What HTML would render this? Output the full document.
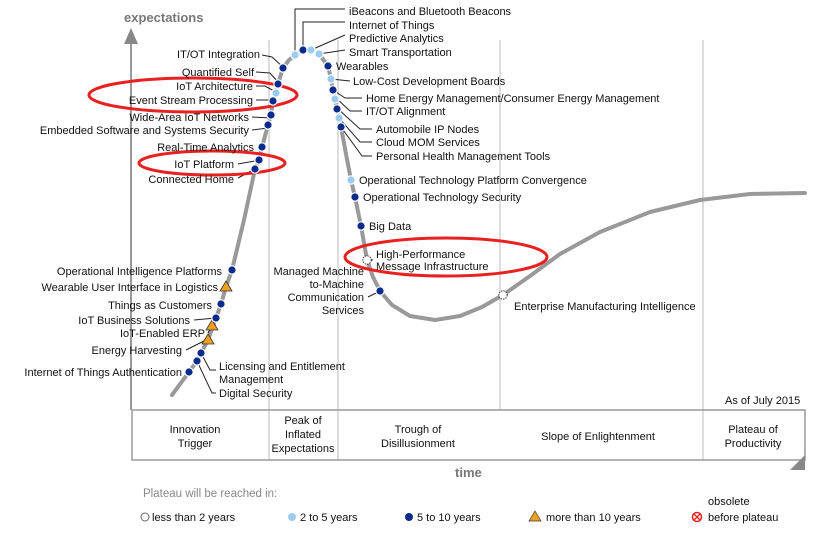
<!DOCTYPE html>
<html><head><meta charset="utf-8"><style>
body{margin:0;background:#fff}
svg{display:block;font-family:"Liberation Sans",sans-serif}
text{font-size:11px;fill:#111}
.g{fill:#888;font-size:11.5px}
</style></head><body>
<svg width="817" height="535" viewBox="0 0 817 535">
<defs>
<g id="d"><circle r="4.2" fill="#0a2b8c" stroke="#fff" stroke-width="1.2"/></g>
<g id="l"><circle r="4.2" fill="#9ccbf0" stroke="#fff" stroke-width="1.2"/></g>
<g id="w"><circle r="4.2" fill="#fff" stroke="#333" stroke-width="1" stroke-dasharray="1.5 1"/></g>
<g id="t"><polygon points="0,-6 6,4 -6,4" fill="#f0a020" stroke="#333" stroke-width="0.8"/></g>
</defs>
<g stroke="#ddd" stroke-width="2">
<line x1="269" y1="40" x2="269" y2="460"/><line x1="338" y1="40" x2="338" y2="460"/>
<line x1="500" y1="40" x2="500" y2="410"/><line x1="703" y1="40" x2="703" y2="460"/>
</g>
<line x1="131" y1="40" x2="131" y2="410" stroke="#999" stroke-width="2"/>
<polygon points="131,28 124,44 138,44" fill="#888"/>
<text x="124" y="22" class="g" style="font-size:13px;font-weight:bold;fill:#777">expectations</text>
<rect x="132" y="410" width="673" height="50" fill="none" stroke="#999" stroke-width="1.5"/>
<polygon points="805,455 805,470 790,470" fill="#888"/>
<text x="455" y="477" class="g" style="font-size:13px;font-weight:bold;fill:#777">time</text>
<g class="g" text-anchor="middle">
<text x="195" y="433">Innovation</text><text x="195" y="447">Trigger</text>
<text x="303" y="424">Peak of</text><text x="303" y="438">Inflated</text><text x="303" y="452">Expectations</text>
<text x="418" y="433">Trough of</text><text x="418" y="447">Disillusionment</text>
<text x="598" y="440">Slope of Enlightenment</text>
<text x="753" y="433">Plateau of</text><text x="753" y="447">Productivity</text>
</g>
<text x="725" y="404">As of July 2015</text>
<polyline points="172,395 189,372 197,361 201,353 208,340 216,318 221,304 226,287 232,270 244,220 255,169 259,160 262,147 268,125 271,115 273,101 278,84 283,68 289,60 295,55 303,50 311,50 319,54 328,66 331,79 333,90 337,109 341,127 346,154 351,180 355,197 361,226 367,260 373,277 380,291 392,305 410,316 435,320 460,316 482,307 503,295 530,276 560,254 600,232 650,212 700,200 750,194 805,193" fill="none" stroke="#999" stroke-width="4" stroke-linejoin="round" stroke-linecap="round"/>
<g stroke="#222" stroke-width="1" fill="none">
<path d="M295,55 L295,9 L345,9"/><path d="M303,50 L303,22 L345,22"/>
<path d="M311,50 L345,35"/><path d="M319,54 L345,50"/>
<path d="M331,79 L350,81"/><path d="M333,90 L345,98 L362,98"/><path d="M335,97 L350,111 L362,111"/>
<path d="M337,108 L360,129 L372,129"/><path d="M339,118 L360,142 L372,142"/><path d="M341,127 L362,156 L372,156"/>
<path d="M283,67 L272,57 L262,55"/><path d="M278,82 L270,73 L256,72"/><path d="M276,92 L265,86 L256,86"/>
<path d="M273,100 L256,100"/><path d="M271,118 L252,117"/><path d="M268,128 L252,130"/>
<path d="M261,160 L238,164"/><path d="M255,169 L238,178"/>
<path d="M216,318 L194,320"/><path d="M212,325 L208,333"/><path d="M208,339 L186,350"/>
<path d="M201,353 L210,370 L216,370"/><path d="M197,361 L212,393 L216,393"/>
<path d="M380,291 L368,297"/><path d="M367,260 L373,260"/>
</g>
<g fill="none" stroke="#e82020" stroke-width="3">
<ellipse cx="193" cy="95" rx="104" ry="17"/>
<ellipse cx="212" cy="163" rx="73" ry="12"/>
<ellipse cx="446" cy="257" rx="101" ry="19"/>
</g>
<use href="#d" x="189" y="372"/><use href="#d" x="197" y="361"/><use href="#d" x="201" y="353"/>
<use href="#t" x="208" y="340"/><use href="#t" x="212" y="326"/><use href="#d" x="216" y="318"/>
<use href="#d" x="221" y="304"/><use href="#t" x="226" y="287"/><use href="#d" x="232" y="270"/>
<use href="#d" x="255" y="169"/><use href="#d" x="259" y="160"/><use href="#d" x="262" y="147"/>
<use href="#d" x="268" y="125"/><use href="#d" x="271" y="115"/><use href="#d" x="273" y="101"/>
<use href="#l" x="276" y="93"/><use href="#d" x="278" y="84"/><use href="#d" x="283" y="68"/>
<use href="#l" x="295" y="55"/><use href="#d" x="303" y="50"/><use href="#l" x="311" y="50"/><use href="#l" x="319" y="54"/>
<use href="#d" x="328" y="66"/><use href="#l" x="331" y="79"/><use href="#d" x="333" y="90"/><use href="#l" x="335" y="99"/>
<use href="#d" x="337" y="109"/><use href="#l" x="339" y="118"/><use href="#d" x="341" y="127"/>
<use href="#l" x="351" y="180"/><use href="#d" x="355" y="197"/><use href="#d" x="361" y="226"/>
<use href="#w" x="367" y="260"/><use href="#d" x="380" y="291"/><use href="#w" x="503" y="295"/>
<g text-anchor="end">
<text x="182" y="376">Internet of Things Authentication</text>
<text x="182" y="354">Energy Harvesting</text>
<text x="205" y="337">IoT-Enabled ERP</text>
<text x="190" y="324">IoT Business Solutions</text>
<text x="212" y="309">Things as Customers</text>
<text x="218" y="291">Wearable User Interface in Logistics</text>
<text x="222" y="275">Operational Intelligence Platforms</text>
<text x="234" y="183">Connected Home</text>
<text x="234" y="168">IoT Platform</text>
<text x="254" y="151">Real-Time Analytics</text>
<text x="249" y="134">Embedded Software and Systems Security</text>
<text x="249" y="121">Wide-Area IoT Networks</text>
<text x="253" y="104">Event Stream Processing</text>
<text x="253" y="90">IoT Architecture</text>
<text x="254" y="76">Quantified Self</text>
<text x="260" y="58">IT/OT Integration</text>
<text x="364" y="275">Managed Machine</text>
<text x="364" y="288">to-Machine</text>
<text x="364" y="301">Communication</text>
<text x="364" y="314">Services</text>
</g>
<text x="219" y="370">Licensing and Entitlement</text>
<text x="219" y="383">Management</text>
<text x="219" y="397">Digital Security</text>
<text x="349" y="15">iBeacons and Bluetooth Beacons</text>
<text x="349" y="29">Internet of Things</text>
<text x="349" y="42">Predictive Analytics</text>
<text x="349" y="56">Smart Transportation</text>
<text x="336" y="70">Wearables</text>
<text x="353" y="85">Low-Cost Development Boards</text>
<text x="366" y="102">Home Energy Management/Consumer Energy Management</text>
<text x="366" y="115">IT/OT Alignment</text>
<text x="376" y="133">Automobile IP Nodes</text>
<text x="376" y="146">Cloud MOM Services</text>
<text x="376" y="160">Personal Health Management Tools</text>
<text x="359" y="184">Operational Technology Platform Convergence</text>
<text x="363" y="201">Operational Technology Security</text>
<text x="369" y="230">Big Data</text>
<text x="376" y="258">High-Performance</text>
<text x="376" y="270">Message Infrastructure</text>
<text x="514" y="310">Enterprise Manufacturing Intelligence</text>
<text x="143" y="497" class="g">Plateau will be reached in:</text>
<g class="g">
<circle cx="145" cy="517" r="4" fill="#fff" stroke="#666"/><text x="152" y="521">less than 2 years</text>
<circle cx="292" cy="517" r="4" fill="#9ccbf0"/><text x="300" y="521">2 to 5 years</text>
<circle cx="409" cy="517" r="4" fill="#0a2b8c"/><text x="417" y="521">5 to 10 years</text>
<polygon points="535,511 541,521 529,521" fill="#f0a020" stroke="#333" stroke-width="0.7"/><text x="546" y="521">more than 10 years</text>
<circle cx="697" cy="517" r="4.5" fill="#fff" stroke="#e82020" stroke-width="1.5"/>
<path d="M694,514 L700,520 M700,514 L694,520" stroke="#e82020" stroke-width="1.3"/>
<text x="708" y="521">before plateau</text>
</g>
<text x="708" y="505">obsolete</text>
</svg>
</body></html>
